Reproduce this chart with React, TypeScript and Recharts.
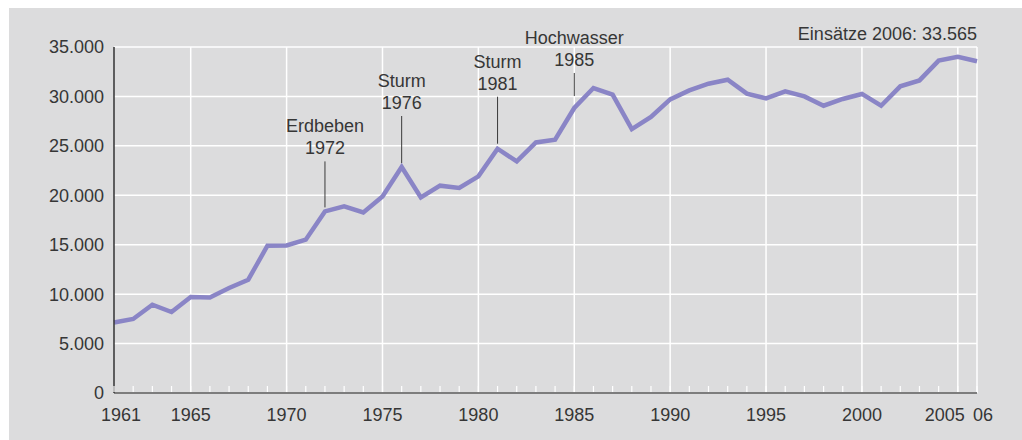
// App.tsx
// Einsätze pro Jahr 1961–2006 – single line chart with event annotations.

import * as React from "react";
import {
  LineChart,
  Line,
  XAxis,
  YAxis,
  CartesianGrid,
  ReferenceLine,
} from "recharts";

const years = [
  1961, 1962, 1963, 1964, 1965, 1966, 1967, 1968, 1969, 1970,
  1971, 1972, 1973, 1974, 1975, 1976, 1977, 1978, 1979, 1980,
  1981, 1982, 1983, 1984, 1985, 1986, 1987, 1988, 1989, 1990,
  1991, 1992, 1993, 1994, 1995, 1996, 1997, 1998, 1999, 2000,
  2001, 2002, 2003, 2004, 2005, 2006,
];

const einsaetze = [
  7140, 7490, 8930, 8190, 9710, 9670, 10620, 11460, 14900, 14930,
  15510, 18370, 18880, 18270, 19890, 22860, 19790, 20970, 20740, 21910,
  24710, 23430, 25350, 25620, 28830, 30850, 30180, 26700, 27920, 29700,
  30610, 31290, 31690, 30280, 29800, 30510, 30000, 29060, 29740, 30250,
  29060, 31020, 31620, 33620, 34020, 33565,
];

const yTicks = [0, 5000, 10000, 15000, 20000, 25000, 30000, 35000];

const labeledYears = [1961, 1965, 1970, 1975, 1980, 1985, 1990, 1995, 2000, 2005, 2006];
const labeledYearTexts = ["1961", "1965", "1970", "1975", "1980", "1985", "1990", "1995", "2000", "2005", "06"];

const gridYears = [1965, 1970, 1975, 1980, 1985, 1990, 1995, 2000, 2005, 2006];

const eventYears = [1972, 1976, 1981, 1985];
const eventNames = ["Erdbeben", "Sturm", "Sturm", "Hochwasser"];

const title = "Einsätze 2006: 33.565";

// styling only: label nudges and stem geometry (px)
const tickNudge: Record<number, number> = { 1961: 7, 2005: -13, 2006: 6 };
const stemGap: Record<number, number> = { 1972: 4, 1976: 4, 1981: 5, 1985: 12 };
const stemLen: Record<number, number> = { 1972: 46, 1976: 47, 1981: 47, 1985: 23 };

const FONT = '"Liberation Sans", Arial, Helvetica, sans-serif';
const TEXT = "#363636";
const BG = "#dcdcdd";
const LINE = "#8a85c6";

const data = years.map((y, i) => ({ year: y, value: einsaetze[i] }));

const fmt = (v: number) => v.toLocaleString("de-DE");

// eslint-disable-next-line @typescript-eslint/no-explicit-any
const YearTick = (props: any) => {
  const { x, y, payload } = props;
  const year = payload.value as number;
  const idx = labeledYears.indexOf(year);
  const dx = tickNudge[year] || 0;
  return (
    <g>
      <line x1={x} x2={x} y1={y - 7} y2={y - 1} stroke="#ffffff" strokeWidth={1.2} />
      {idx >= 0 && (
        <text
          x={x + dx}
          y={y + 28}
          textAnchor="middle"
          fontFamily={FONT}
          fontSize={18}
          fill={TEXT}
        >
          {labeledYearTexts[idx]}
        </text>
      )}
    </g>
  );
};

// eslint-disable-next-line @typescript-eslint/no-explicit-any
const EventLabel = (props: any) => {
  const { x, y, index } = props;
  const year = years[index];
  const e = eventYears.indexOf(year);
  if (e < 0 || x == null || y == null) return null;
  const bottom = y - stemGap[year];
  const top = bottom - stemLen[year];
  return (
    <g>
      <line x1={x} x2={x} y1={top} y2={bottom} stroke="#3a3a3a" strokeWidth={1} />
      <text x={x} y={top - 7} textAnchor="middle" fontFamily={FONT} fontSize={18} fill={TEXT}>
        {String(year)}
      </text>
      <text x={x} y={top - 29} textAnchor="middle" fontFamily={FONT} fontSize={18} fill={TEXT}>
        {eventNames[e]}
      </text>
    </g>
  );
};

const App: React.FC = () => {
  return (
    <div
      style={{
        position: "absolute",
        left: 0,
        top: 0,
        width: 1022,
        height: 440,
        background: "#ffffff",
        fontFamily: FONT,
      }}
    >
      <div
        style={{
          position: "absolute",
          left: 9,
          top: 8,
          width: 1013,
          height: 432,
          background: BG,
        }}
      />
      <div
        style={{
          position: "absolute",
          left: 0,
          top: 25,
          width: 977,
          textAlign: "right",
          fontSize: 18,
          lineHeight: "18px",
          color: TEXT,
        }}
      >
        {title}
      </div>
      <div style={{ position: "absolute", left: 0, top: 0 }}>
        <LineChart
          width={1022}
          height={440}
          data={data}
          margin={{ top: 47, right: 45, bottom: 0, left: 14 }}
        >
          <CartesianGrid stroke="#ffffff" strokeWidth={1.5} vertical={false} />
          {gridYears.map((g) => (
            <ReferenceLine key={g} x={g} stroke="#ffffff" strokeWidth={1.5} />
          ))}
          <XAxis
            dataKey="year"
            type="number"
            domain={[1961, 2006]}
            ticks={years}
            interval={0}
            tick={<YearTick />}
            tickLine={false}
            tickSize={0}
            tickMargin={0}
            axisLine={{ stroke: "#555555", strokeWidth: 1.5 }}
            height={47}
          />
          <YAxis
            domain={[0, 35000]}
            ticks={yTicks}
            interval={0}
            tickFormatter={fmt}
            tickLine={false}
            tickSize={0}
            tickMargin={10}
            width={100}
            axisLine={{ stroke: "#333333", strokeWidth: 1.5 }}
            tick={{ fontFamily: FONT, fontSize: 18, fill: TEXT }}
          />
          <Line
            type="linear"
            dataKey="value"
            stroke={LINE}
            strokeWidth={4.5}
            strokeLinejoin="miter"
            dot={false}
            activeDot={false}
            isAnimationActive={false}
            label={<EventLabel />}
          />
        </LineChart>
      </div>
    </div>
  );
};

export default App;
